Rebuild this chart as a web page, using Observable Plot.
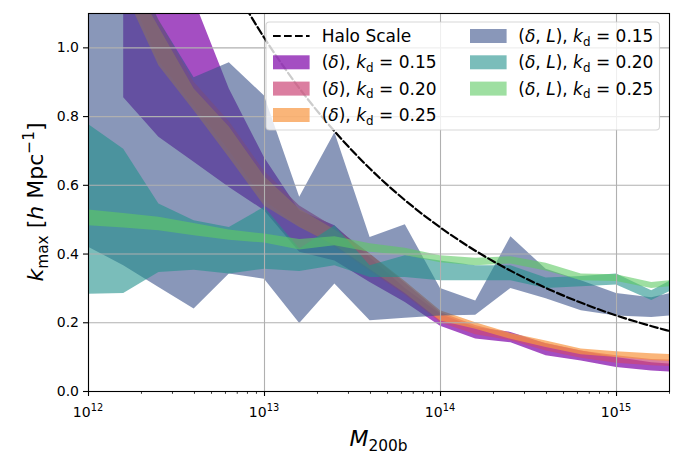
<!DOCTYPE html>
<html>
<head>
<meta charset="utf-8">
<script src="https://cdn.jsdelivr.net/npm/d3@7"></script>
<script src="https://cdn.jsdelivr.net/npm/@observablehq/plot@0.6"></script>
<style>
  html, body { margin: 0; padding: 0; background: #fff; }
  #chart svg { display: block; }
</style>
</head>
<body>
<div id="chart"></div>
<script>
// ---------- data ----------
const logM = [12.0, 12.2, 12.4, 12.6, 12.8, 13.0, 13.2, 13.4, 13.6, 13.8, 14.0, 14.2, 14.4, 14.6, 14.8, 15.0, 15.2, 15.4];

// (delta), k_d = 0.15
const d15Lo = [null, 0.855, 0.74, 0.667, 0.594, 0.526, 0.405, 0.38, 0.317, 0.259, 0.19, 0.153, 0.142, 0.104, 0.089, 0.07, 0.06, 0.054];
const d15Hi = [null, 1.6, 1.35, 1.14, 0.88, 0.68, 0.525, 0.482, 0.39, 0.30, 0.225, 0.186, 0.172, 0.139, 0.118, 0.099, 0.084, 0.076];
// (delta), k_d = 0.20
const d20Lo = [null, 1.2, 0.96, 0.83, 0.70, 0.555, 0.48, 0.42, 0.35, 0.28, 0.2, 0.165, 0.148, 0.118, 0.097, 0.082, 0.075, 0.07];
const d20Hi = [null, 1.27, 1.08, 0.90, 0.785, 0.64, 0.54, 0.477, 0.40, 0.315, 0.23, 0.192, 0.166, 0.14, 0.118, 0.104, 0.093, 0.09];
// (delta), k_d = 0.25
const d25Lo = [null, 1.17, 0.948, 0.817, 0.68, 0.54, 0.477, 0.425, 0.355, 0.285, 0.205, 0.181, 0.152, 0.128, 0.107, 0.099, 0.09, 0.085];
const d25Hi = [null, 1.24, 1.06, 0.88, 0.77, 0.625, 0.53, 0.47, 0.40, 0.32, 0.235, 0.20, 0.169, 0.147, 0.124, 0.116, 0.11, 0.105];
// (delta, L), k_d = 0.15
const dl15Lo = [0.42, 0.366, 0.303, 0.24, 0.342, 0.327, 0.198, 0.313, 0.206, 0.213, 0.22, 0.222, 0.30, 0.27, 0.235, 0.22, 0.215, 0.225];
const dl15Hi = [1.3, 1.3, 1.08, 0.913, 0.957, 0.86, 0.565, 0.753, 0.448, 0.485, 0.30, 0.263, 0.45, 0.356, 0.322, 0.285, 0.273, 0.295];
// (delta, L), k_d = 0.20
const dl20Lo = [0.283, 0.285, 0.346, 0.353, 0.342, 0.356, 0.349, 0.366, 0.332, 0.332, 0.322, 0.322, 0.322, 0.30, 0.305, 0.31, 0.265, 0.315];
const dl20Hi = [0.777, 0.705, 0.546, 0.497, 0.477, 0.536, 0.415, 0.482, 0.366, 0.395, 0.38, 0.366, 0.366, 0.33, 0.335, 0.342, 0.293, 0.347];
// (delta, L), k_d = 0.25
const dl25Lo = [0.482, 0.476, 0.468, 0.453, 0.44, 0.432, 0.412, 0.424, 0.405, 0.396, 0.375, 0.366, 0.371, 0.351, 0.322, 0.32, 0.30, 0.31];
const dl25Hi = [0.528, 0.518, 0.507, 0.489, 0.47, 0.458, 0.442, 0.45, 0.43, 0.417, 0.395, 0.388, 0.392, 0.373, 0.342, 0.34, 0.317, 0.327];

// Halo scale (dashed line)
const haloLogM = [12.8, 13.0, 13.2, 13.4, 13.6, 13.8, 14.0, 14.2, 14.4, 14.6, 14.8, 15.0, 15.2, 15.4];
const haloK    = [1.198, 1.028, 0.881, 0.756, 0.648, 0.556, 0.477, 0.409, 0.351, 0.301, 0.258, 0.221, 0.190, 0.163];

// ticks
const xMajor = [1e12, 1e13, 1e14, 1e15];
const xMajorExp = ["12", "13", "14", "15"];
const xMinor = [];
[12, 13, 14].forEach(d => { for (let k = 2; k <= 9; k++) xMinor.push(k * 10 ** d); });
xMinor.push(2e15);
const yTicks = [0, 0.2, 0.4, 0.6, 0.8, 1.0];

// series styling
const series = [
  {label: ["(", ["δ", "i"], "), ", ["k", "i"], ["d", "sub"], " = 0.15"], lo: d15Lo, hi: d15Hi, color: "#7e03a8", op: 0.7},
  {label: ["(", ["δ", "i"], "), ", ["k", "i"], ["d", "sub"], " = 0.20"], lo: d20Lo, hi: d20Hi, color: "#cc4778", op: 0.7},
  {label: ["(", ["δ", "i"], "), ", ["k", "i"], ["d", "sub"], " = 0.25"], lo: d25Lo, hi: d25Hi, color: "#f89540", op: 0.7},
  {label: ["(", ["δ", "i"], ", ", ["L", "i"], "), ", ["k", "i"], ["d", "sub"], " = 0.15"], lo: dl15Lo, hi: dl15Hi, color: "#3b528b", op: 0.6},
  {label: ["(", ["δ", "i"], ", ", ["L", "i"], "), ", ["k", "i"], ["d", "sub"], " = 0.20"], lo: dl20Lo, hi: dl20Hi, color: "#21918c", op: 0.6},
  {label: ["(", ["δ", "i"], ", ", ["L", "i"], "), ", ["k", "i"], ["d", "sub"], " = 0.25"], lo: dl25Lo, hi: dl25Hi, color: "#5ec962", op: 0.6}
];

function bandRows(lo, hi) {
  return logM.map((l, i) => ({m: 10 ** l, lo: lo[i], hi: hi[i]})).filter(d => d.lo != null);
}
const haloRows = haloLogM.map((l, i) => ({m: 10 ** l, k: haloK[i]}));

const gridStyle = {stroke: "#b0b0b0", strokeOpacity: 1, strokeWidth: 1.1};

const plot = Plot.plot({
  width: 683,
  height: 454,
  marginLeft: 88,
  marginRight: 14,
  marginTop: 13,
  marginBottom: 63,
  style: {fontFamily: "'DejaVu Sans', sans-serif", fontSize: "14px", color: "black", background: "white"},
  x: {type: "log", domain: [1e12, 2e15]},
  y: {domain: [0, 1.1]},
  marks: [
    ...series.map(s => Plot.areaY(bandRows(s.lo, s.hi), {x: "m", y1: "lo", y2: "hi", fill: s.color, fillOpacity: s.op, clip: true})),
    Plot.gridX({ticks: xMajor, ...gridStyle}),
    Plot.gridY({ticks: yTicks, ...gridStyle}),
    Plot.line(haloRows, {x: "m", y: "k", stroke: "black", strokeWidth: 2.2, strokeDasharray: "7.7,3.3", curve: "catmull-rom", clip: true}),
    Plot.axisY({ticks: yTicks, tickFormat: d3.format(".1f"), tickSize: 5, tickPadding: 4.5, label: null, strokeWidth: 1.1}),
    Plot.axisX({ticks: xMinor, tickSize: 2.8, tickFormat: () => "", label: null, strokeWidth: 0.8}),
    Plot.axisX({ticks: xMajor, tickSize: 5, tickFormat: () => "", label: null, strokeWidth: 1.1}),
    Plot.frame({stroke: "black", strokeWidth: 1.1})
  ]
});

document.getElementById("chart").appendChild(plot);

// ---------- text decorations ----------
const svg = d3.select(plot);
const xs = plot.scale("x");

// x tick labels 10^n
xMajor.forEach((v, i) => {
  const t = svg.append("text")
    .attr("x", xs.apply(v)).attr("y", 417)
    .attr("text-anchor", "middle").attr("font-size", 14).attr("fill", "black");
  t.append("tspan").text("10");
  t.append("tspan").attr("font-size", 9.8).attr("dy", -6.5).text(xMajorExp[i]);
});

// axis labels
const xl = svg.append("text")
  .attr("x", (88 + 669) / 2).attr("y", 446)
  .attr("text-anchor", "middle").attr("font-size", 22).attr("fill", "black");
xl.append("tspan").attr("font-style", "italic").text("M");
xl.append("tspan").attr("font-size", 15.4).attr("dy", 4.5).text("200b");

const yl = svg.append("text")
  .attr("transform", `translate(43, ${(13 + 391) / 2}) rotate(-90)`)
  .attr("text-anchor", "middle").attr("font-size", 22).attr("fill", "black");
yl.append("tspan").attr("font-style", "italic").text("k");
yl.append("tspan").attr("font-size", 15.4).attr("dy", 4.5).text("max");
yl.append("tspan").attr("dy", -4.5).text(" [");
yl.append("tspan").attr("font-style", "italic").text("h");
yl.append("tspan").text(" Mpc");
yl.append("tspan").attr("font-size", 15.4).attr("dy", -9).text("−1");
yl.append("tspan").attr("dy", 9).text("]");

// ---------- legend ----------
const lg = svg.append("g").attr("text-anchor", "start");
lg.append("rect")
  .attr("x", 266).attr("y", 22).attr("width", 393.5).attr("height", 108)
  .attr("rx", 3.5).attr("fill", "white").attr("fill-opacity", 0.8)
  .attr("stroke", "#cccccc").attr("stroke-opacity", 0.8).attr("stroke-width", 1.1);

const rowY = [36, 62.3, 88.6, 115];
const cols = [{hx: 273, tx: 321.7}, {hx: 470, tx: 518.3}];
const hw = 36.6;

function writeLabel(x, y, parts) {
  const t = lg.append("text").attr("x", x).attr("y", y)
    .attr("text-anchor", "start").attr("font-size", 17).attr("fill", "black");
  let shifted = 0;
  parts.forEach(p => {
    const txt = Array.isArray(p) ? p[0] : p;
    const kind = Array.isArray(p) ? p[1] : "n";
    const ts = t.append("tspan").text(txt);
    if (kind === "i") ts.attr("font-style", "italic");
    if (kind === "sub") { ts.attr("font-size", 11.9).attr("dy", 3.5 - shifted); shifted = 3.5; }
    else if (shifted) { ts.attr("dy", -shifted); shifted = 0; }
  });
}

// Halo Scale entry
lg.append("line")
  .attr("x1", cols[0].hx).attr("x2", cols[0].hx + hw)
  .attr("y1", rowY[0]).attr("y2", rowY[0])
  .attr("stroke", "black").attr("stroke-width", 2.2).attr("stroke-dasharray", "7.7,3.3");
writeLabel(cols[0].tx, rowY[0] + 6, ["Halo Scale"]);

series.forEach((s, i) => {
  const c = i < 3 ? cols[0] : cols[1];
  const r = i < 3 ? rowY[i + 1] : rowY[i - 3];
  lg.append("rect")
    .attr("x", c.hx).attr("y", r - 7).attr("width", hw).attr("height", 14)
    .attr("fill", s.color).attr("fill-opacity", s.op);
  writeLabel(c.tx, r + 6, s.label);
});
</script>
</body>
</html>
